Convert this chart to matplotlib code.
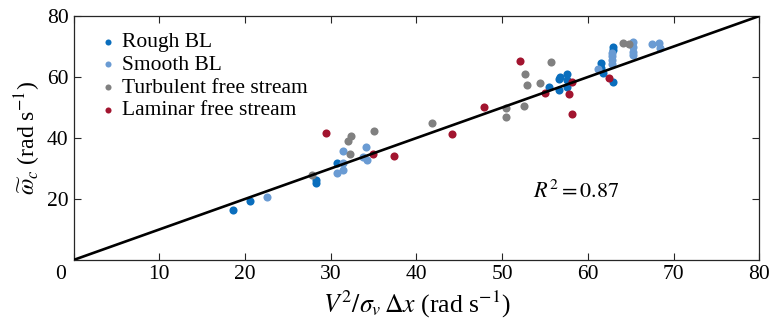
import numpy as np
import matplotlib as mpl
mpl.use('Agg')
from matplotlib import pyplot as plt
from matplotlib.transforms import ScaledTranslation

# data
rough_x = [18.55, 20.6, 28.3, 28.3, 30.75, 55.5, 56.6, 56.6, 56.7, 57.55, 57.55, 57.6,
           61.55, 61.55, 61.75, 62.96, 62.96, 62.96]
rough_y = [16.4, 19.4, 26.2, 25.4, 31.7, 56.6, 55.7, 59.2, 60.1, 61.0, 59.0, 56.8,
           64.5, 62.8, 61.2, 58.3, 69.7, 68.8]

smooth_x = [22.55, 30.7, 31.45, 31.4, 31.45, 34.1, 33.8, 34.2, 61.2, 62.8, 62.8, 62.8,
            62.8, 65.2, 65.2, 65.2, 65.2, 67.5, 68.3, 68.4]
smooth_y = [20.6, 28.6, 29.5, 31.9, 35.6, 37.0, 33.9, 32.8, 62.5, 68.0, 66.8, 65.6,
            64.4, 71.4, 69.8, 68.3, 67.2, 70.8, 71.0, 69.4]

turb_x = [27.8, 32.0, 32.4, 32.2, 35.06, 41.8, 50.4, 50.4, 52.5, 52.85, 52.7, 54.4,
          55.65, 64.1, 64.8]
turb_y = [27.7, 39.0, 40.7, 34.6, 42.4, 44.8, 49.7, 46.9, 50.4, 57.4, 60.9, 57.9,
          64.8, 71.2, 70.8]

lam_x = [29.4, 34.9, 37.35, 44.15, 47.84, 52.1, 55.0, 58.1, 57.8, 58.1, 62.5]
lam_y = [41.7, 34.6, 34.2, 41.3, 50.2, 65.2, 54.9, 58.3, 54.4, 48.0, 59.8]

r2 = 0.87

plt.rcParams['font.family'] = ['Liberation Serif', 'DejaVu Serif']
plt.rcParams['mathtext.fontset'] = 'stix'
plt.rcParams['font.size'] = 15


def main():
    fig = plt.figure(figsize=(7.73, 3.26), dpi=100)
    ax = fig.add_axes([0.0951, 0.2025, 0.8874, 0.7485])

    s = 34
    ax.scatter(rough_x, rough_y, s=s, c='#0a6ebd', lw=0, label='Rough BL')
    ax.scatter(smooth_x, smooth_y, s=s, c='#6a9bd3', lw=0, label='Smooth BL')
    ax.scatter(turb_x, turb_y, s=s, c='#808080', lw=0, label='Turbulent free stream')
    ax.scatter(lam_x, lam_y, s=s, c='#a2142f', lw=0, label='Laminar free stream')

    # one-to-one line
    ax.plot([0, 80], [0, 80], '-k', lw=1.9, zorder=5)

    ax.text(53.6, 20.3, r'$R^2 = %.2f$' % r2, fontsize=16)

    ax.set_xlim(0, 80)
    ax.set_ylim(0, 80)
    ax.set_xticks(np.arange(0, 81, 10))
    ax.set_yticks([20, 40, 60, 80])
    ax.tick_params(direction='in', top=True, right=True, length=5, width=0.8,
                   labelsize=15.5, colors='#262626', labelcolor='k')
    for sp in ax.spines.values():
        sp.set_color('#262626')
        sp.set_linewidth(0.9)

    # the 0 label sits a bit left of the corner
    lab0 = ax.xaxis.get_major_ticks()[0].label1
    lab0.set_transform(lab0.get_transform() + ScaledTranslation(-0.13, 0, fig.dpi_scale_trans))

    ax.set_xlabel(r'$V^2/\sigma_v\,\Delta x$ (rad s$^{-1}$)', fontsize=18.5, labelpad=4)
    ax.set_ylabel(r'$\widetilde{\omega}_c$ (rad s$^{-1}$)', fontsize=17, labelpad=3)

    ax.legend(loc='upper left', bbox_to_anchor=(0.017, 0.969), frameon=False,
              handletextpad=0.0, handlelength=1.3, labelspacing=0.12, borderaxespad=0,
              markerscale=0.75, fontsize=15.5)

    fig.savefig('out.png', dpi=100)


if __name__ == '__main__':
    main()
